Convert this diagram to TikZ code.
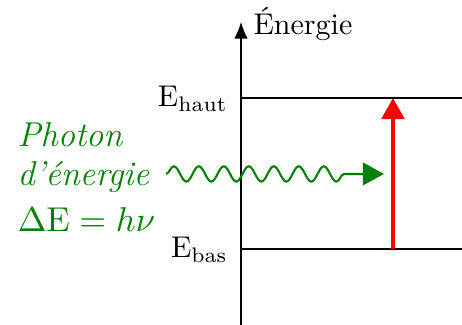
\documentclass[tikz,border=0pt]{standalone}
\usepackage{amsmath,amssymb}
\newcommand\cursif{\itshape\fontsize{11.5}{14}\selectfont}
\usepackage{tikz}
\usetikzlibrary{arrows.meta,decorations.pathmorphing}
\definecolor{photon}{HTML}{008000}
\definecolor{saut}{HTML}{FF0000}
\tikzset{sc/.style={x=1mm,y=1mm,line width=.4pt},
  niveau/.style={line width=.75pt},
  lbl/.style={inner sep=0pt}}

\begin{document}
\begin{tikzpicture}[sc]
  \useasboundingbox (0,0) rectangle (54.15,38.09);
  \coordinate (o) at (28.25,0);
  \coordinate (top) at (28.25,35.5);
  \coordinate (hg) at (28.25,26.6); \coordinate (hd) at (54.15,26.6);
  \coordinate (bg) at (28.25,8.91); \coordinate (bd) at (54.15,8.91);
  \draw[-{Latex[length=5.5pt,width=4.5pt]}] (o) -- (top);
  \node[lbl,anchor=base west] (nrj) at ([xshift=1.4mm,yshift=-1.5mm]top) {Énergie};
  \draw[niveau] (hg) -- (hd);
  \draw[niveau] (bg) -- (bd);
  \node[lbl,anchor=base east] (haut) at ([xshift=-1.5mm,yshift=-1mm]hg) {E$_{\text{haut}}$};
  \node[lbl,anchor=base east] (bas) at ([xshift=-1.5mm,yshift=-1.06mm]bg) {E$_{\text{bas}}$};
  \coordinate (pa) at (46.06,8.91); \coordinate (pb) at (46.06,26.6);
  \draw[saut,line width=1.4pt,-{Triangle[length=7pt,width=7.5pt]}] (pa) -- (pb);
  \coordinate (w0) at (19.46,17.7); \coordinate (w1) at (45,17.7);
  \draw[photon,line width=.7pt,-{Triangle[length=7pt,width=7.5pt]},decorate,
    decoration={snake,amplitude=.9mm,segment length=2.93mm,post length=4.1mm}] (w0) -- (w1);
  \node[lbl,photon,anchor=base west] (l1) at (2,20.86) {\cursif Photon};
  \node[lbl,photon,anchor=base west] (l2) at (2,16.4) {\cursif d'énergie};
  \node[lbl,photon,anchor=base west,scale=1.15,transform shape] (l3) at (2,11) {$\Delta\mathrm{E}=h\nu$};
\end{tikzpicture}
\end{document}
